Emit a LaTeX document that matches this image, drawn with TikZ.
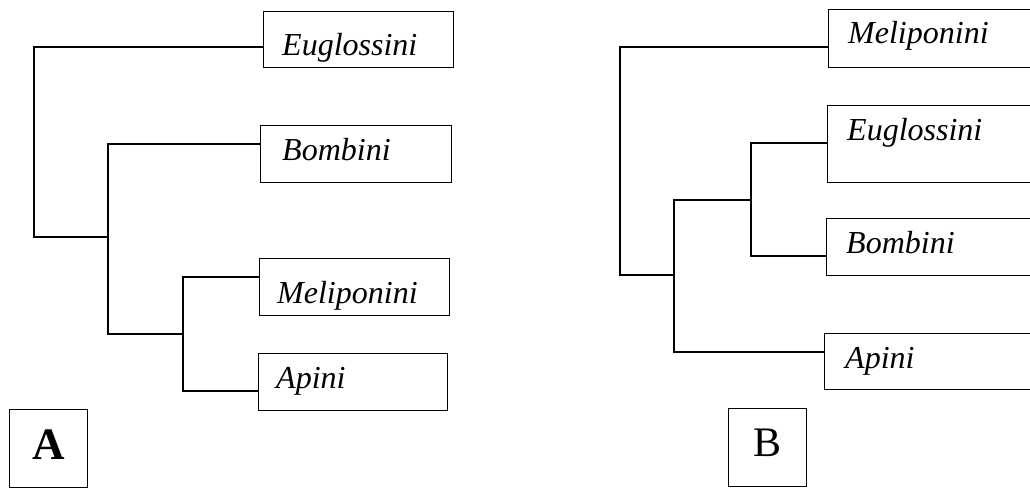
\documentclass[tikz,border=0pt]{standalone}
\usepackage{fontspec}
\setmainfont{Liberation Serif}
\tikzset{
  taxon/.style={draw, rectangle, inner sep=0pt, anchor=north west, line width=1.4pt},
  taxname/.style={anchor=base west, inner sep=0pt, font=\itshape\fontsize{32}{36}\selectfont},
  tagbox/.style={draw, rectangle, inner sep=0pt, anchor=north west, minimum width=78pt, minimum height=78pt, line width=1.4pt},
  branch/.style={draw, line width=1.3pt}
}
\begin{document}
\begin{tikzpicture}[x=1pt, y=-1pt]
\useasboundingbox (0,0) rectangle (1030,488);
\clip (0,0) rectangle (1030,488);

% ---------- tree A ----------
\node[taxon, minimum width=190pt, minimum height=56pt] (eugA) at (263,11) {};
\node[taxon, minimum width=191pt, minimum height=57pt] (bomA) at (260,125) {};
\node[taxon, minimum width=190pt, minimum height=57pt] (melA) at (259,258) {};
\node[taxon, minimum width=189pt, minimum height=57pt] (apiA) at (258,353) {};

\node[taxname] (eugAt) at ([shift={(19,44)}]eugA.north west) {Euglossini};
\node[taxname] (bomAt) at ([shift={(22,35)}]bomA.north west) {Bombini};
\node[taxname] (melAt) at ([shift={(18,45)}]melA.north west) {Meliponini};
\node[taxname] (apiAt) at ([shift={(18,35)}]apiA.north west) {Apini};

\coordinate (nA1) at (34,237);
\coordinate (nA2) at (108,237);
\coordinate (nA3) at (108,334);
\coordinate (nA4) at (183,334);

\draw[branch] ([yshift=-36pt]eugA.north west) -| (nA1) -- (nA2);
\draw[branch] ([yshift=-19pt]bomA.north west) -| (nA3) -- (nA4);
\draw[branch] ([yshift=-19pt]melA.north west) -| (nA4) |- ([yshift=-38pt]apiA.north west);

\node[tagbox, font=\bfseries\fontsize{45}{45}\selectfont, text depth=8pt] (tagA) at (9,409) {A};

% ---------- tree B ----------
\node[taxon, minimum width=230pt, minimum height=58pt] (melB) at (828,9) {};
\node[taxon, minimum width=230pt, minimum height=77pt] (eugB) at (827,105) {};
\node[taxon, minimum width=230pt, minimum height=57pt] (bomB) at (826,218) {};
\node[taxon, minimum width=230pt, minimum height=56pt] (apiB) at (824,333) {};

\node[taxname] (melBt) at ([shift={(20,34)}]melB.north west) {Meliponini};
\node[taxname] (eugBt) at ([shift={(20,35)}]eugB.north west) {Euglossini};
\node[taxname] (bomBt) at ([shift={(20,35)}]bomB.north west) {Bombini};
\node[taxname] (apiBt) at ([shift={(21,35)}]apiB.north west) {Apini};

\coordinate (nB1) at (620,275);
\coordinate (nB2) at (674,275);
\coordinate (nB3) at (674,200);
\coordinate (nB4) at (751,200);

\draw[branch] ([yshift=-38pt]melB.north west) -| (nB1) -- (nB2);
\draw[branch] ([yshift=-38pt]eugB.north west) -| (nB4) |- ([yshift=-38pt]bomB.north west);
\draw[branch] (nB4) -- (nB3) |- ([yshift=-19pt]apiB.north west);

\node[tagbox, font=\fontsize{42}{42}\selectfont, text depth=9pt] (tagB) at (728,408) {B};
\end{tikzpicture}
\end{document}
